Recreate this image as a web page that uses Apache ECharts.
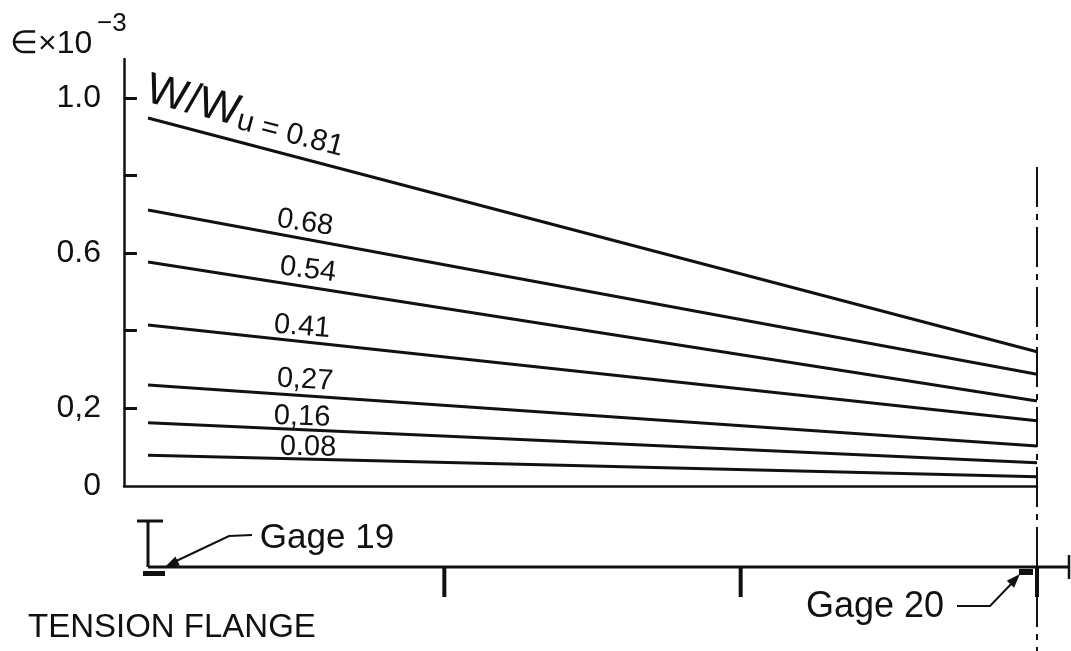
<!DOCTYPE html>
<html>
<head>
<meta charset="utf-8">
<title>Strain along tension flange</title>
<script src="https://cdn.jsdelivr.net/npm/echarts@6/dist/echarts.min.js"></script>
<style>
  html, body { margin: 0; padding: 0; background: #fff; }
  #chart { width: 1071px; height: 651px; }
</style>
</head>
<body>
<div id="chart"></div>
<script>
// Load levels W/Wu and the flange strain (x 10^-3) read at the two gages
const loadRatios   = ['0.81', '0.68', '0.54', '0.41', '0,27', '0,16', '0.08'];
const strainGage19 = [0.948, 0.711, 0.577, 0.415, 0.260, 0.163, 0.079];
const strainGage20 = [0.346, 0.288, 0.219, 0.168, 0.103, 0.060, 0.024];

// Positions along the beam, in thirds of the span
const gagePositions = [0, 3];
const spanMarks = [1, 2, 3];

// Strain axis ticks and labels
const yTickValues  = [0.2, 0.4, 0.6, 0.8, 1.0];
const yLabelValues = [0, 0.2, 0.6, 1.0];
const yLabelText   = ['0', '0,2', '0.6', '1.0'];

const INK = '#111111';
const FONT = '"Liberation Sans", Arial, sans-serif';

const chart = echarts.init(document.getElementById('chart'), null, { renderer: 'canvas' });

const series = loadRatios.map((r, i) => ({
  name: r,
  type: 'line',
  data: [[gagePositions[0], strainGage19[i]], [gagePositions[1], strainGage20[i]]],
  symbol: 'none',
  silent: true,
  lineStyle: { color: INK, width: 3 }
}));

chart.setOption({
  animation: false,
  backgroundColor: '#ffffff',
  grid: { left: 124, right: 34, top: 59, bottom: 165 },
  xAxis: {
    type: 'value', min: -0.081, max: 3,
    axisLine: { show: true, onZero: false, lineStyle: { color: INK, width: 2.5 } },
    axisTick: { show: false }, axisLabel: { show: false }, splitLine: { show: false }
  },
  yAxis: {
    type: 'value', min: 0, max: 1.1, interval: 0.2,
    axisLine: { show: true, onZero: false, lineStyle: { color: INK, width: 2.5 } },
    axisTick: { show: true, inside: true, length: 13, customValues: yTickValues,
                lineStyle: { color: INK, width: 3 } },
    axisLabel: {
      customValues: yLabelValues, margin: 23, color: INK, fontSize: 32, fontFamily: FONT,
      formatter: v => {
        const k = yLabelValues.findIndex(t => Math.abs(t - v) < 1e-9);
        return k < 0 ? '' : yLabelText[k];
      }
    },
    splitLine: { show: false }
  },
  series
});

// ---- annotations placed through the chart's own coordinate system ----
const toPx = p => chart.convertToPixel({ gridIndex: 0 }, p);

function textEl(text, x, y, size, opts) {
  opts = opts || {};
  return {
    type: 'text', x, y, rotation: opts.rotation || 0, silent: true, z: 10,
    style: Object.assign({
      text, fill: INK, fontSize: size, fontFamily: FONT,
      align: opts.align || 'center', textAlign: opts.align || 'center',
      verticalAlign: 'middle', textVerticalAlign: 'middle'
    }, opts.style || {})
  };
}
function lineEl(x1, y1, x2, y2, w, dash) {
  return { type: 'line', silent: true, z: 10,
    shape: { x1, y1, x2, y2 },
    style: { stroke: INK, lineWidth: w, lineDash: dash || null } };
}
function arrowHead(fromX, fromY, tipX, tipY, len, half) {
  const dx = tipX - fromX, dy = tipY - fromY, d = Math.hypot(dx, dy);
  const ux = dx / d, uy = dy / d;
  const bx = tipX - ux * len, by = tipY - uy * len;
  return { type: 'polygon', silent: true, z: 10,
    shape: { points: [[tipX, tipY], [bx - uy * half, by + ux * half], [bx + uy * half, by - ux * half]] },
    style: { fill: INK } };
}

// label anchors (beam position, strain) for each curve's caption
const captionAnchors = [[0.33, 0.955], [0.53, 0.678], [0.54, 0.557], [0.52, 0.410],
                        [0.53, 0.273], [0.52, 0.178], [0.54, 0.100]];

const els = [];
loadRatios.forEach((r, i) => {
  const a = toPx([gagePositions[0], strainGage19[i]]);
  const b = toPx([gagePositions[1], strainGage20[i]]);
  const ang = -Math.atan2(b[1] - a[1], b[0] - a[0]);
  const c = toPx(captionAnchors[i]);
  if (i === 0) {
    els.push(textEl('{w|W/W}{u|u}{e| = 0.81}', c[0], c[1], 30, {
      rotation: ang,
      style: { rich: {
        w: { fontSize: 44, fontFamily: FONT, fill: INK, verticalAlign: 'bottom' },
        u: { fontSize: 30, fontFamily: FONT, fill: INK, verticalAlign: 'bottom' },
        e: { fontSize: 30, fontFamily: FONT, fill: INK, verticalAlign: 'bottom' }
      } }
    }));
  } else {
    els.push(textEl(r, c[0], c[1], 29, { rotation: ang * 0.8 }));
  }
});

// axis title
els.push(textEl('\u2208\u00D710', 10, 44, 32, { align: 'left' }));
els.push(textEl('\u22123', 97, 24, 26, { align: 'left' }));

// beam sketch below the plot
const beamY = 567;
const x0 = toPx([0, 0])[0];
const xEnd = toPx([3, 0])[0];
els.push(lineEl(x0, beamY, 1070, beamY, 3));
els.push(lineEl(1069, 555, 1069, 579, 2.5));
els.push(lineEl(137, 521, 163, 521, 3));
els.push(lineEl(x0, 521, x0, beamY, 3));
spanMarks.forEach(m => {
  const px = toPx([m, 0])[0];
  els.push(lineEl(px, beamY, px, 597, 4));
});
// gage markers
els.push({ type: 'rect', silent: true, z: 10, shape: { x: 143, y: 571, width: 22, height: 5 }, style: { fill: INK } });
els.push({ type: 'rect', silent: true, z: 10, shape: { x: 1019, y: 569, width: 14, height: 6 }, style: { fill: INK } });

// section line through gage 20
els.push(lineEl(xEnd, 167, xEnd, 651, 2, [40, 7, 6, 7]));

// gage callouts
els.push(textEl('Gage 19', 327, 538, 35));
els.push({ type: 'polyline', silent: true, z: 10,
  shape: { points: [[252, 535], [229, 536], [172, 563]] },
  style: { stroke: INK, lineWidth: 2, fill: null } });
els.push(arrowHead(229, 536, 165, 567, 14, 5));

els.push(textEl('Gage 20', 875, 607, 36));
els.push({ type: 'polyline', silent: true, z: 10,
  shape: { points: [[957, 606], [990, 606], [1014, 581]] },
  style: { stroke: INK, lineWidth: 2, fill: null } });
els.push(arrowHead(990, 606, 1020, 574, 14, 5));

els.push(textEl('TENSION FLANGE', 28, 628, 33, { align: 'left' }));

chart.setOption({ graphic: { elements: els } });
</script>
</body>
</html>
